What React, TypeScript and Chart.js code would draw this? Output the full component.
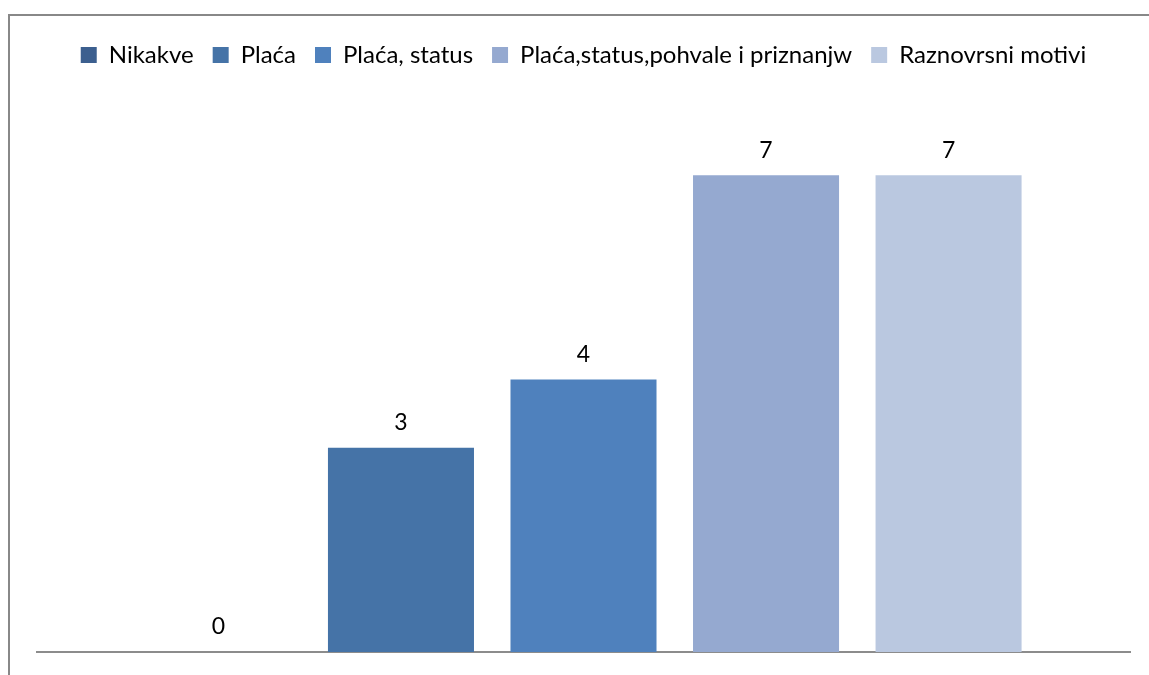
import React, { useEffect, useRef } from "react";
import { Chart, registerables } from "chart.js";

Chart.register(...registerables);

const categories = [""];
const seriesNames = [
  "Nikakve",
  "Plaća",
  "Plaća, status",
  "Plaća,status,pohvale i priznanjw",
  "Raznovrsni motivi",
];
const seriesValues = [0, 3, 4, 7, 7];
const seriesColors = ["#3C5F8F", "#4573A7", "#4F81BD", "#95A9D0", "#BAC8E0"];
const axisMax = 8;

const FONT = "Lato, 'Open Sans', sans-serif";

const labelPlugin = {
  id: "valueLabels",
  afterDatasetsDraw(chart: any) {
    const ctx = chart.ctx;
    ctx.save();
    ctx.font = `23px ${FONT}`;
    ctx.fillStyle = "#000000";
    ctx.textAlign = "center";
    ctx.textBaseline = "middle";
    chart.data.datasets.forEach((ds: any, i: number) => {
      const meta = chart.getDatasetMeta(i);
      meta.data.forEach((el: any, j: number) => {
        ctx.fillText(String(ds.data[j]), el.x, el.y - 25);
      });
    });
    ctx.restore();
  },
};

const legendGapPlugin = {
  id: "legendGap",
  beforeInit(chart: any) {
    const legend = chart.legend;
    if (!legend) return;
    const origFit = legend.fit;
    legend.fit = function () {
      origFit.bind(legend)();
      this.height += 30;
    };
  },
};

export default function App() {
  const ref = useRef<HTMLCanvasElement>(null);
  useEffect(() => {
    if (!ref.current) return;
    const chart = new Chart(ref.current, {
      type: "bar",
      data: {
        labels: categories,
        datasets: seriesNames.map((name, i) => ({
          label: name,
          data: [seriesValues[i]],
          backgroundColor: seriesColors[i],
          borderWidth: 0,
          categoryPercentage: 0.835,
          barPercentage: 0.8,
        })),
      },
      options: {
        responsive: false,
        animation: false,
        layout: { padding: { left: 37, right: 19, top: 24, bottom: 23 } },
        plugins: {
          legend: {
            display: true,
            position: "top",
            labels: {
              boxWidth: 16,
              boxHeight: 16,
              padding: 19,
              color: "#000000",
              font: { family: FONT, size: 24 },
            },
          },
          tooltip: { enabled: false },
        },
        scales: {
          x: {
            grid: { display: false, drawTicks: false },
            ticks: { display: false },
            border: { color: "#8C8C8C", width: 2 },
          },
          y: {
            display: false,
            min: 0,
            max: axisMax,
          },
        },
      },
      plugins: [legendGapPlugin, labelPlugin],
    });
    return () => chart.destroy();
  }, []);
  return (
    <div
      style={{
        position: "fixed",
        left: 0,
        top: 0,
        width: 1149,
        height: 675,
        overflow: "hidden",
        background: "#ffffff",
      }}
    >
      <div
        style={{
          position: "absolute",
          left: 8,
          top: 14,
          width: 1200,
          height: 700,
          border: "2px solid #888888",
          boxSizing: "border-box",
        }}
      />
      <canvas
        ref={ref}
        width={1149}
        height={675}
        style={{ position: "absolute", left: 0, top: 0 }}
      />
    </div>
  );
}
